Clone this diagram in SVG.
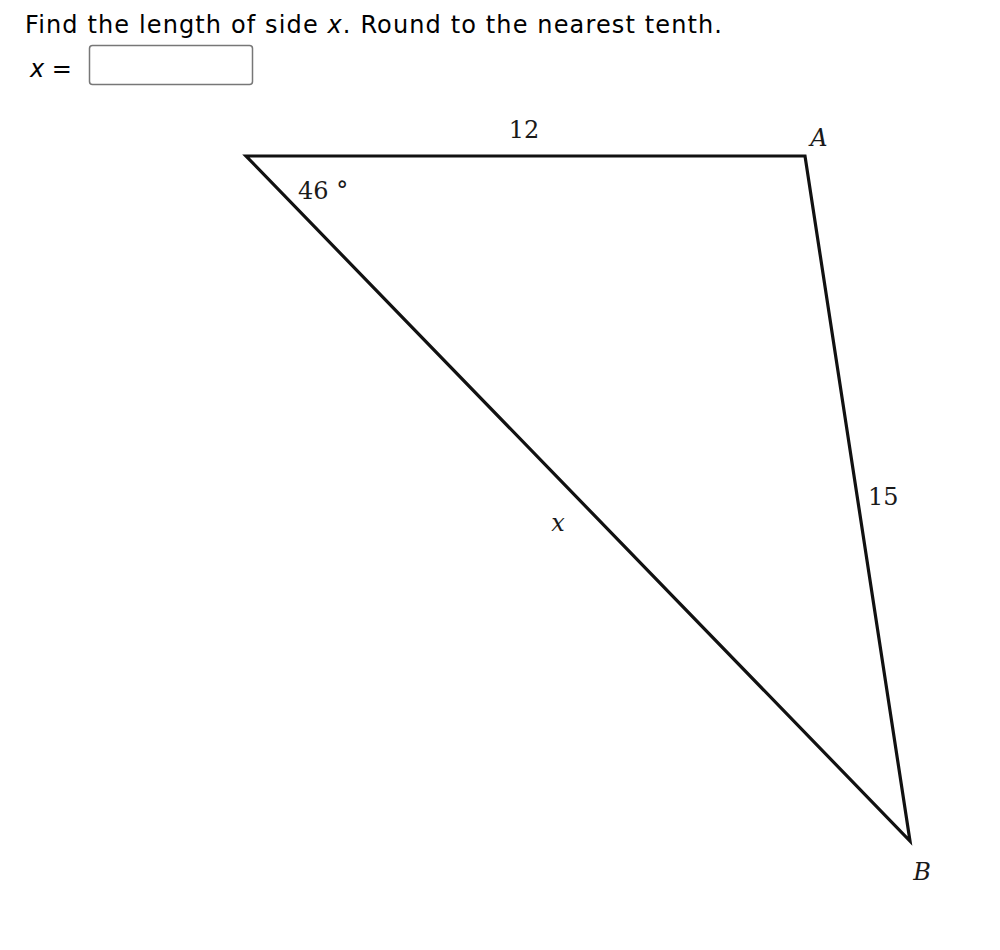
<svg xmlns="http://www.w3.org/2000/svg" width="1000" height="950" viewBox="0 0 1000 950">
<style>
.q{font-family:"DejaVu Sans","Verdana",sans-serif;font-size:24px;fill:#000}
.lbl{font-family:"DejaVu Serif","Liberation Serif",serif;font-size:24px;fill:#1a1a1a}
.it{font-style:italic}
</style>
<rect width="1000" height="950" fill="#fff"/>
<g id="question">
<text class="q" x="25" y="33" textLength="697" lengthAdjust="spacing">Find the length of side <tspan font-style="italic">x</tspan>. Round to the nearest tenth.</text>
<text class="q" x="30" y="77"><tspan font-style="italic">x</tspan> =</text>
<rect x="89.5" y="45.5" width="163" height="39" rx="3" fill="#fff" stroke="#777" stroke-width="1.5"/>
</g>
<g id="connectors">
<polygon points="246,156 805,156 910,841" fill="none" stroke="#111" stroke-width="3.2" stroke-linejoin="miter"/>
</g>
<g id="labels">
<text class="lbl" x="524" y="138" text-anchor="middle">12</text>
<text class="lbl it" x="819" y="146" text-anchor="middle">A</text>
<text class="lbl" x="298" y="199">46 °</text>
<text class="lbl it" x="558" y="531" text-anchor="middle">x</text>
<text class="lbl" x="868" y="505">15</text>
<text class="lbl it" x="922" y="880" text-anchor="middle">B</text>
</g>
</svg>
